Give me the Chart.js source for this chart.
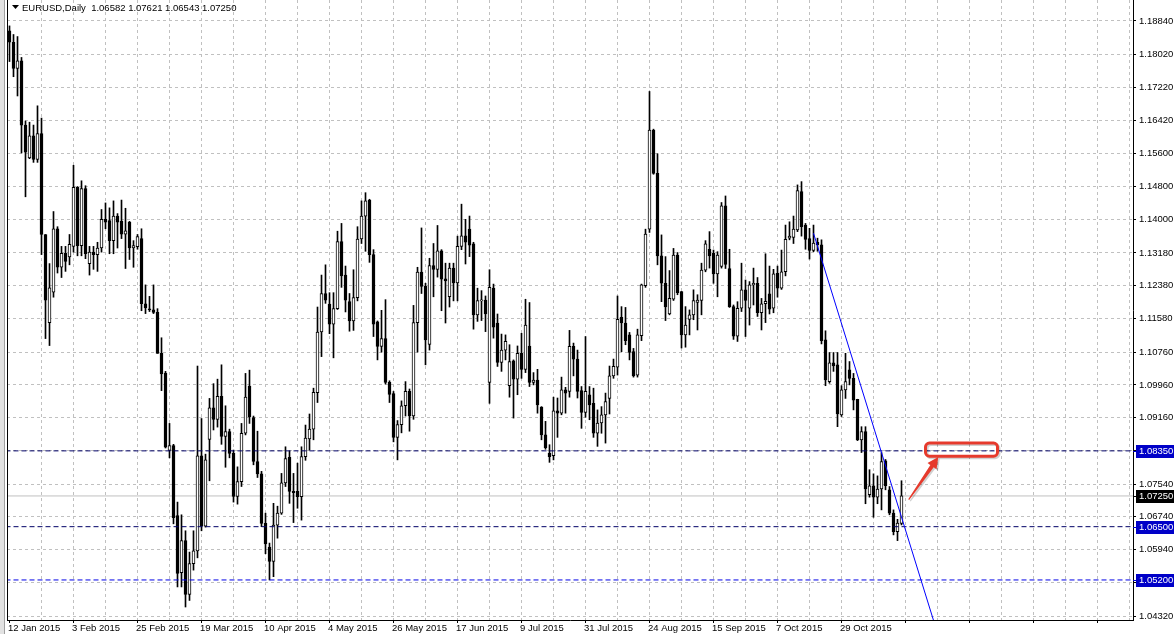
<!DOCTYPE html>
<html>
<head>
<meta charset="utf-8">
<title>EURUSD,Daily</title>
<script src="https://cdn.jsdelivr.net/npm/chart.js@4.4.1/dist/chart.umd.min.js"></script>
<style>
  html, body { margin: 0; padding: 0; background: #ffffff; }
  #chart { display: block; }
</style>
</head>
<body>
<canvas id="chart" width="1174" height="634"></canvas>
<script>
// Datos (velas diarias, índice 0 = 12 Jan 2015)
const dateLabels = ['12 Jan 2015', '3 Feb 2015', '25 Feb 2015', '19 Mar 2015', '10 Apr 2015', '4 May 2015',
  '26 May 2015', '17 Jun 2015', '9 Jul 2015', '31 Jul 2015', '24 Aug 2015', '15 Sep 2015', '7 Oct 2015', '29 Oct 2015'];

const priceTicks = [1.18840, 1.18020, 1.17220, 1.16420, 1.15600, 1.14800, 1.14000, 1.13180, 1.12380, 1.11580,
  1.10760, 1.09960, 1.09160, 1.08350, 1.07540, 1.06740, 1.05940, 1.05130, 1.04320];

const opens = [
  1.1860,1.1832,1.1768,1.1787,1.1630,1.1550,1.1604,1.1546,1.1609,1.1363,
  1.1148,1.1222,1.1377,1.1283,1.1317,1.1308,1.1334,1.1478,1.1336,1.1475,
  1.1292,1.1320,1.1314,1.1330,1.1400,1.1397,1.1348,1.1408,1.1395,1.1364,
  1.1393,1.1330,1.1333,1.1353,1.1194,1.1180,1.1179,1.1173,1.1073,1.1025,
  1.0836,1.0848,1.0677,1.0538,1.0616,1.0485,1.0560,1.0591,1.0823,1.0651,
  1.0863,1.0940,1.0912,1.0968,1.0870,1.0882,1.0829,1.0724,1.0760,1.0878,
  1.0993,1.0916,1.0809,1.0779,1.0658,1.0600,1.0565,1.0654,1.0683,1.0757,
  1.0819,1.0736,1.0736,1.0723,1.0821,1.0864,1.0888,1.0977,1.1125,1.1219,
  1.1193,1.1144,1.1182,1.1346,1.1264,1.1199,1.1152,1.1209,1.1352,1.1408,
  1.1447,1.1314,1.1150,1.1090,1.1109,1.1002,1.0975,1.0868,1.0899,1.0945,
  1.0980,1.0920,1.1148,1.1271,1.1237,1.1095,1.1287,1.1278,1.1323,1.1255,
  1.1211,1.1281,1.1245,1.1334,1.1360,1.1376,1.1340,1.1167,1.1201,1.1203,
  1.1002,1.1232,1.1147,1.1051,1.1081,1.0994,1.1055,1.1010,1.1073,1.1034,
  1.1091,1.1002,1.1008,1.0942,1.0874,1.0829,1.0823,1.0933,1.0927,1.0984,
  1.0980,1.1090,1.1059,1.0982,1.0929,1.0972,1.0951,1.0878,1.0903,1.0923,
  1.0963,1.1018,1.1039,1.1161,1.1147,1.1118,1.1077,1.1020,1.1116,1.1238,
  1.1376,1.1618,1.1512,1.1311,1.1244,1.1169,1.1205,1.1313,1.1224,1.1118,
  1.1156,1.1167,1.1197,1.1202,1.1276,1.1327,1.1317,1.1267,1.1285,1.1433,
  1.1280,1.1187,1.1115,1.1183,1.1228,1.1183,1.1240,1.1244,1.1172,1.1194,
  1.1218,1.1183,1.1268,1.1232,1.1272,1.1354,1.1356,1.1374,1.1468,1.1386,
  1.1353,1.1324,1.1344,1.1338,1.1106,1.1004,1.1050,1.1045,1.0923,1.0984,
  1.1033,1.1012,1.0961,1.0862,1.0882,1.0728,1.0750,1.0722,1.0742,1.0811,
  1.0740,1.0683,1.0638,1.06582];

const highs = [
  1.1872,1.1851,1.1846,1.1795,1.1640,1.1637,1.1630,1.1677,1.1647,1.1363,
  1.1292,1.1419,1.1382,1.1334,1.1334,1.1363,1.1532,1.1480,1.1494,1.1482,
  1.1334,1.1334,1.1344,1.1424,1.1440,1.1428,1.1445,1.1414,1.1447,1.1427,
  1.1395,1.1348,1.1363,1.1377,1.1240,1.1212,1.1240,1.1182,1.1111,1.1029,
  1.0902,1.0851,1.0710,1.0679,1.0640,1.0588,1.0640,1.1042,1.0914,1.0827,
  1.0963,1.0999,1.1010,1.1045,1.0945,1.0888,1.0837,1.0796,1.0902,1.1024,
  1.1032,1.0920,1.0883,1.0785,1.0683,1.0610,1.0707,1.0700,1.0780,1.0845,
  1.0835,1.0780,1.0805,1.0845,1.0898,1.0925,1.0988,1.1186,1.1264,1.1289,
  1.1221,1.1221,1.1371,1.1390,1.1286,1.1219,1.1277,1.1382,1.1445,1.1465,
  1.1449,1.1326,1.1152,1.1178,1.1204,1.1006,1.0980,1.0909,1.0957,1.1004,
  1.0986,1.1190,1.1283,1.1379,1.1244,1.1305,1.1341,1.1385,1.1326,1.1293,
  1.1293,1.1293,1.1359,1.1437,1.1400,1.1408,1.1344,1.1232,1.1226,1.1213,
  1.1277,1.1242,1.1169,1.1120,1.1118,1.1094,1.1057,1.1091,1.1122,1.1205,
  1.1197,1.1026,1.1034,1.0943,1.0907,1.0850,1.0966,1.0964,1.1015,1.0990,
  1.1129,1.1098,1.1081,1.0992,1.1114,1.0992,1.0988,1.0935,1.0943,1.0976,
  1.1042,1.1059,1.1213,1.1187,1.1185,1.1124,1.1085,1.1132,1.1242,1.1376,
  1.1712,1.1620,1.1560,1.1362,1.1309,1.1275,1.1329,1.1319,1.1224,1.1187,
  1.1179,1.1228,1.1216,1.1293,1.1348,1.1370,1.1325,1.1321,1.1441,1.1457,
  1.1327,1.1191,1.1199,1.1293,1.1252,1.1248,1.1281,1.1258,1.1207,1.1316,
  1.1286,1.1278,1.1286,1.1325,1.1386,1.1394,1.1408,1.1484,1.1492,1.1390,
  1.1378,1.1386,1.1354,1.1350,1.1128,1.1075,1.1075,1.1075,1.0994,1.1073,
  1.1053,1.1024,1.0961,1.0894,1.0894,1.0789,1.0779,1.0774,1.0831,1.0814,
  1.0748,1.0691,1.0668,1.07621];

const lows = [
  1.1785,1.1748,1.1701,1.1562,1.1455,1.1548,1.1539,1.1539,1.1314,1.1109,
  1.1092,1.1210,1.1269,1.1258,1.1273,1.1289,1.1320,1.1311,1.1311,1.1304,
  1.1264,1.1278,1.1273,1.1320,1.1377,1.1316,1.1316,1.1330,1.1353,1.1280,
  1.1302,1.1283,1.1327,1.1177,1.1170,1.1175,1.1170,1.1073,1.0982,1.0842,
  1.0818,1.0657,1.0503,1.0503,1.0454,1.0470,1.0544,1.0574,1.0640,1.0649,
  1.0762,1.0886,1.0893,1.0851,1.0795,1.0818,1.0710,1.0705,1.0748,1.0874,
  1.0902,1.0801,1.0770,1.0650,1.0584,1.0520,1.0528,1.0622,1.0680,1.0748,
  1.0707,1.0660,1.0695,1.0666,1.0812,1.0837,1.0862,1.0953,1.1065,1.1195,
  1.1121,1.1062,1.1180,1.1234,1.1174,1.1127,1.1129,1.1201,1.1341,1.1322,
  1.1295,1.1114,1.1057,1.1076,1.0998,1.0953,1.0857,1.0813,1.0879,1.0920,
  1.0883,1.0912,1.1076,1.1219,1.1045,1.1081,1.1211,1.1259,1.1177,1.1147,
  1.1186,1.1201,1.1201,1.1326,1.1291,1.1309,1.1132,1.1151,1.1153,1.1126,
  1.0951,1.1110,1.1041,1.1029,1.1057,1.0966,1.0915,1.0972,1.1012,1.1026,
  1.0992,1.0996,1.0927,1.0862,1.0839,1.0807,1.0813,1.0868,1.0923,1.0927,
  1.0966,1.1018,1.0964,1.0890,1.0917,1.0911,1.0868,1.0846,1.0878,1.0854,
  1.0925,1.1012,1.1020,1.1077,1.1094,1.1057,1.1015,1.1015,1.1104,1.1234,
  1.1368,1.1510,1.1289,1.1199,1.1153,1.1167,1.1202,1.1216,1.1086,1.1088,
  1.1118,1.1155,1.1130,1.1167,1.1272,1.1281,1.1244,1.1211,1.1281,1.1280,
  1.1185,1.1107,1.1102,1.1175,1.1114,1.1142,1.1191,1.1163,1.1130,1.1148,
  1.1169,1.1172,1.1210,1.1229,1.1262,1.1350,1.1341,1.1370,1.1359,1.1327,
  1.1303,1.1321,1.1322,1.1096,1.0994,1.1000,1.1029,1.0894,1.0919,1.0963,
  1.0996,1.0935,1.0860,1.0831,1.0706,1.0722,1.0673,1.0706,1.0691,1.0740,
  1.0679,1.0630,1.0616,1.06543];

const closes = [
  1.1832,1.1768,1.1787,1.1630,1.1564,1.1604,1.1546,1.1609,1.1363,1.1203,
  1.1233,1.1377,1.1283,1.1317,1.1297,1.1339,1.1478,1.1336,1.1475,1.1316,
  1.1320,1.1314,1.1330,1.1400,1.1393,1.1348,1.1408,1.1393,1.1364,1.1372,
  1.1330,1.1336,1.1358,1.1194,1.1184,1.1179,1.1173,1.1073,1.1023,1.0844,
  1.0848,1.0672,1.0536,1.0616,1.0485,1.0560,1.0591,1.0823,1.0651,1.0813,
  1.0940,1.0912,1.0968,1.0870,1.0882,1.0829,1.0724,1.0760,1.0878,1.0966,
  1.0918,1.0809,1.0779,1.0658,1.0608,1.0565,1.0654,1.0683,1.0757,1.0816,
  1.0736,1.0733,1.0723,1.0821,1.0866,1.0888,1.0978,1.1125,1.1219,1.1203,
  1.1144,1.1182,1.1346,1.1262,1.1203,1.1152,1.1209,1.1352,1.1408,1.1445,
  1.1314,1.1144,1.1090,1.1109,1.1002,1.0973,1.0868,1.0899,1.0945,1.0980,
  1.0920,1.1148,1.1271,1.1236,1.1106,1.1287,1.1278,1.1323,1.1254,1.1250,
  1.1281,1.1245,1.1334,1.1360,1.1344,1.1337,1.1167,1.1202,1.1203,1.1169,
  1.1234,1.1137,1.1051,1.1081,1.1102,1.1053,1.1010,1.1073,1.1034,1.1142,
  1.1002,1.1008,1.0947,1.0874,1.0843,1.0821,1.0933,1.0927,1.0984,1.0976,
  1.1090,1.1059,1.0980,1.0929,1.0980,1.0947,1.0878,1.0903,1.0923,1.0955,
  1.1018,1.1041,1.1156,1.1147,1.1104,1.1075,1.1018,1.1118,1.1240,1.1364,
  1.1618,1.1512,1.1311,1.1244,1.1186,1.1207,1.1313,1.1221,1.1118,1.1142,
  1.1167,1.1202,1.1203,1.1276,1.1340,1.1311,1.1267,1.1313,1.1433,1.1290,
  1.1187,1.1115,1.1183,1.1228,1.1202,1.1240,1.1244,1.1172,1.1194,1.1200,
  1.1181,1.1267,1.1232,1.1272,1.1351,1.1359,1.1376,1.1470,1.1382,1.1351,
  1.1324,1.1342,1.1338,1.1104,1.1008,1.1050,1.1042,1.0925,1.0984,1.1004,
  1.1012,1.0959,1.0862,1.0882,1.0742,1.0750,1.0722,1.0742,1.0809,1.0750,
  1.0683,1.0638,1.0659,1.07250];

// Objetos dibujados sobre el gráfico
const levelLines = [1.0835, 1.0650, 1.0520];
const bidPrice = 1.0725;
const trendStart = [201, 1.1366];
const trendEnd = [232, 1.0390];
const tagValues = [1.0835, 1.0725, 1.0650, 1.0520];
const calloutBox = [229, 247, 1.0822, 1.0854];
const arrowFrom = [224.8, 1.0716];
const arrowTo = [232.2, 1.0820];
const headerText = 'EURUSD,Daily  1.06582 1.07621 1.06543 1.07250';

// Estilos
const levelColors = ['#000066', '#000066', '#0000e6'];
const tagColors = ['#0000c8', '#000000', '#0000c8', '#0000c8'];
const FONT = '"Liberation Sans", Arial, sans-serif';
const RED = '#e63a2c';

Chart.defaults.font.family = FONT;
Chart.defaults.font.size = 9.5;
Chart.defaults.color = '#000';

const wickData = highs.map((h, i) => ({ x: i, y: [lows[i], h] }));
const bodyData = opens.map((o, i) => ({ x: i, y: [Math.min(o, closes[i]), Math.max(o, closes[i])] }));
const bodyFill = opens.map((o, i) => (closes[i] >= o ? '#ffffff' : '#000000'));

const levelDatasets = levelLines.map((v, i) => ({
  type: 'line',
  data: [{ x: -5, y: v }, { x: 300, y: v }],
  borderColor: levelColors[i],
  borderWidth: 1,
  borderDash: [5, 3],
  pointRadius: 0,
  order: 1
}));

// Plugin para marco, cabecera, etiquetas de precio y la llamada roja
const overlayPlugin = {
  id: 'mt4Overlay',
  beforeDraw(chart) {
    const { ctx } = chart;
    ctx.save();
    ctx.fillStyle = '#ffffff';
    ctx.fillRect(0, 0, chart.width, chart.height);
    ctx.fillStyle = '#e2e2e2';
    ctx.fillRect(0, 0, 4, chart.height);
    ctx.fillStyle = '#a0a0a0';
    ctx.fillRect(4, 0, 1, chart.height);
    ctx.restore();
  },
  afterDraw(chart) {
    const { ctx, chartArea: area, scales: { x, y } } = chart;
    ctx.save();

    // marco izquierdo
    ctx.fillStyle = '#000';
    ctx.fillRect(area.left, area.top, 1, area.bottom - area.top);

    // etiquetas de precio resaltadas
    ctx.font = '9.5px ' + FONT;
    ctx.textBaseline = 'middle';
    ctx.textAlign = 'left';
    tagValues.forEach((v, i) => {
      const py = Math.round(y.getPixelForValue(v));
      ctx.fillStyle = tagColors[i];
      ctx.fillRect(area.right + 3, py - 6, chart.width - area.right - 3, 13);
      ctx.fillRect(area.right, py, 3, 1);
      ctx.fillStyle = '#ffffff';
      ctx.fillText(v.toFixed(5), area.right + 6, py + 0.5);
    });

    // cabecera
    ctx.fillStyle = '#000';
    ctx.beginPath();
    ctx.moveTo(12, 5);
    ctx.lineTo(19, 5);
    ctx.lineTo(15.5, 9);
    ctx.closePath();
    ctx.fill();
    ctx.font = '9.5px ' + FONT;
    ctx.fillText(headerText, 22, 8);

    // rectángulo redondeado rojo
    const bx0 = x.getPixelForValue(calloutBox[0]);
    const bx1 = x.getPixelForValue(calloutBox[1]);
    const by0 = y.getPixelForValue(calloutBox[3]);
    const by1 = y.getPixelForValue(calloutBox[2]);
    ctx.lineWidth = 3;
    ctx.strokeStyle = 'rgba(0,0,0,0.18)';
    ctx.beginPath();
    ctx.roundRect(bx0 + 1.5, by0 + 1.5, bx1 - bx0, by1 - by0, 4);
    ctx.stroke();
    ctx.strokeStyle = RED;
    ctx.beginPath();
    ctx.roundRect(bx0, by0, bx1 - bx0, by1 - by0, 4);
    ctx.stroke();

    // flecha roja
    const ax0 = x.getPixelForValue(arrowFrom[0]);
    const ay0 = y.getPixelForValue(arrowFrom[1]);
    const ax1 = x.getPixelForValue(arrowTo[0]);
    const ay1 = y.getPixelForValue(arrowTo[1]);
    const ang = Math.atan2(ay1 - ay0, ax1 - ax0);
    const head = 11;
    const hx = ax1 - Math.cos(ang) * head;
    const hy = ay1 - Math.sin(ang) * head;
    const nx = -Math.sin(ang);
    const ny = Math.cos(ang);
    const arrowPath = (dx, dy) => {
      ctx.beginPath();
      ctx.moveTo(ax0 + nx * 0.6 + dx, ay0 + ny * 0.6 + dy);
      ctx.lineTo(hx + nx * 2 + dx, hy + ny * 2 + dy);
      ctx.lineTo(hx + nx * 5.5 + dx, hy + ny * 5.5 + dy);
      ctx.lineTo(ax1 + dx, ay1 + dy);
      ctx.lineTo(hx - nx * 5.5 + dx, hy - ny * 5.5 + dy);
      ctx.lineTo(hx - nx * 2 + dx, hy - ny * 2 + dy);
      ctx.lineTo(ax0 - nx * 0.6 + dx, ay0 - ny * 0.6 + dy);
      ctx.closePath();
      ctx.fill();
    };
    ctx.fillStyle = 'rgba(0,0,0,0.18)';
    arrowPath(1.5, 1.5);
    ctx.fillStyle = RED;
    arrowPath(0, 0);

    ctx.restore();
  }
};

const chart = new Chart(document.getElementById('chart'), {
  type: 'bar',
  data: {
    datasets: [
      {
        type: 'line',
        data: [{ x: -5, y: bidPrice }, { x: 300, y: bidPrice }],
        borderColor: '#c0c0c0',
        borderWidth: 1,
        pointRadius: 0,
        order: 5
      },
      {
        type: 'bar',
        data: wickData,
        backgroundColor: '#000000',
        barThickness: 1,
        grouped: false,
        order: 4
      },
      {
        type: 'bar',
        data: bodyData,
        backgroundColor: bodyFill,
        borderColor: '#000000',
        borderWidth: 1,
        borderSkipped: false,
        barThickness: 3,
        minBarLength: 1,
        grouped: false,
        order: 3
      },
      ...levelDatasets,
      {
        type: 'line',
        data: [{ x: trendStart[0], y: trendStart[1] }, { x: trendEnd[0], y: trendEnd[1] }],
        borderColor: '#0000ff',
        borderWidth: 1,
        pointRadius: 0,
        order: 0
      }
    ]
  },
  options: {
    responsive: false,
    animation: false,
    events: [],
    layout: { padding: { left: 7, top: 0, right: 0, bottom: 0 } },
    plugins: {
      legend: { display: false },
      tooltip: { enabled: false },
      title: { display: false }
    },
    scales: {
      x: {
        type: 'linear',
        position: 'bottom',
        min: -0.625,
        max: 280.875,
        offset: false,
        afterBuildTicks: (scale) => {
          const ticks = [];
          for (let i = 0; i <= 280; i += 8) ticks.push({ value: i });
          scale.ticks = ticks;
        },
        afterFit: (scale) => {
          scale.height = 14;
          scale.paddingLeft = 0;
          scale.paddingRight = 0;
        },
        grid: {
          offset: false,
          color: (ctx) => (ctx.tick && ctx.tick.value > 0 ? '#c0c0c0' : 'rgba(0,0,0,0)'),
          tickColor: (ctx) => (ctx.tick && ctx.tick.value % 16 === 0 ? '#000000' : 'rgba(0,0,0,0)'),
          tickLength: 3,
          tickBorderDash: []
        },
        border: { display: true, color: '#000000', width: 1, dash: [3, 3] },
        ticks: {
          autoSkip: false,
          maxRotation: 0,
          align: 'start',
          labelOffset: -1.5,
          padding: 0,
          color: '#000000',
          font: { size: 9.5 },
          callback: (v) => (v % 16 === 0 ? (dateLabels[v / 16] || '') : '')
        }
      },
      y: {
        type: 'linear',
        position: 'right',
        min: 1.04223,
        max: 1.19352,
        beginAtZero: false,
        afterBuildTicks: (scale) => {
          scale.ticks = priceTicks.map((v) => ({ value: v }));
        },
        afterFit: (scale) => {
          scale.width = 41;
          scale.paddingTop = 0;
          scale.paddingBottom = 0;
        },
        grid: {
          color: '#c0c0c0',
          tickColor: '#000000',
          tickLength: 3,
          tickBorderDash: []
        },
        border: { display: true, color: '#000000', width: 1, dash: [3, 3] },
        ticks: {
          autoSkip: false,
          padding: 3,
          color: '#000000',
          font: { size: 9.5 },
          callback: (v) => v.toFixed(5)
        }
      }
    }
  },
  plugins: [overlayPlugin]
});
</script>
</body>
</html>
